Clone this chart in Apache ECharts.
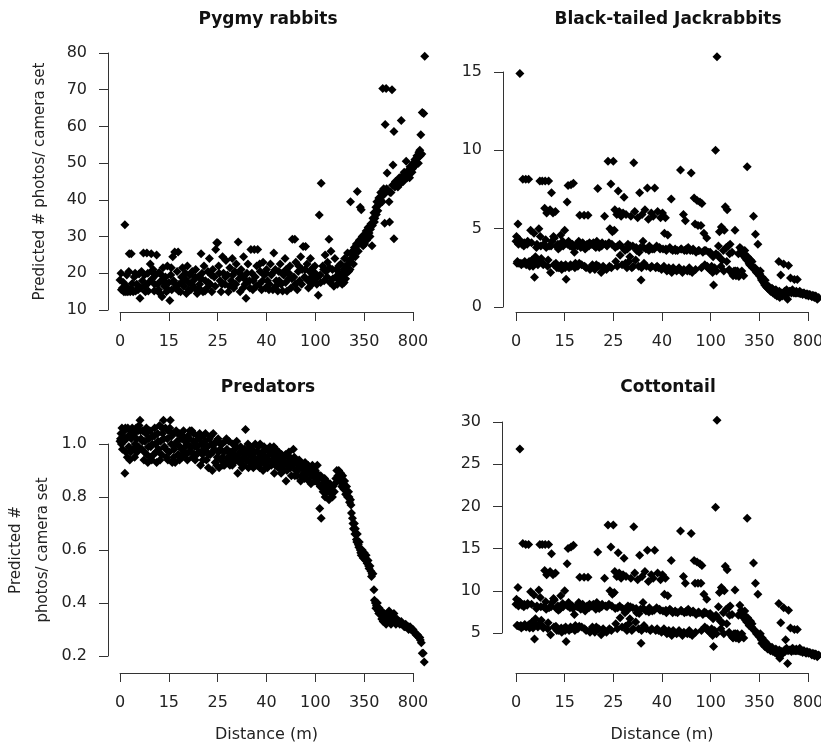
<!DOCTYPE html>
<html>
<head>
<meta charset="utf-8">
<script src="https://cdn.jsdelivr.net/npm/echarts@6/dist/echarts.min.js"></script>
<style>
html,body{margin:0;padding:0;background:#fff;}
#chart{width:821px;height:747px;}
</style>
</head>
<body>
<div id="chart"></div>
<script>
// x positions are in tick units: 0..6 correspond to the labelled ticks
const xTickLabels = ['0', '15', '25', '40', '100', '350', '800'];
const panelTitles = ['Pygmy rabbits', 'Black-tailed Jackrabbits', 'Predators', 'Cottontail'];
const yAxisTitles = ['Predicted # photos/ camera set', '', 'Predicted #\nphotos/ camera set', ''];
const xAxisTitles = ['', '', 'Distance (m)', 'Distance (m)'];
const pygmyTicks = [10, 20, 30, 40, 50, 60, 70, 80];
const jackTicks = [0, 5, 10, 15];
const predatorTicks = [0.2, 0.4, 0.6, 0.8, 1.0];
const cottontailTicks = [5, 10, 15, 20, 25, 30];

const pygmyPoints = [
[0.00,18.2],[0.02,20.0],[0.05,16.0],[0.08,15.0],[0.10,33.2],[0.12,15.0],[0.14,19.5],[0.16,15.0],[0.19,25.3],[0.21,15.0],
[0.23,25.3],[0.25,17.2],[0.27,15.0],[0.29,19.0],[0.32,15.2],[0.34,17.0],[0.37,15.5],[0.39,19.8],[0.41,13.2],[0.43,16.0],
[0.46,18.0],[0.48,25.5],[0.50,19.5],[0.52,15.0],[0.55,25.5],[0.57,20.0],[0.59,17.5],[0.62,22.5],[0.64,25.3],[0.66,18.5],
[0.68,21.0],[0.70,15.2],[0.73,19.5],[0.75,25.0],[0.77,17.0],[0.80,20.2],[0.82,14.5],[0.84,18.0],[0.86,13.6],[0.88,21.5],
[0.91,16.5],[0.93,19.0],[0.95,15.0],[0.97,22.0],[1.00,17.5],[1.02,12.6],[1.04,19.5],[1.06,15.5],[1.08,24.5],[1.10,18.0],
[1.12,25.8],[1.14,16.0],[1.17,20.5],[1.19,25.8],[1.21,17.0],[1.24,15.0],[1.26,19.0],[1.28,21.5],[1.31,16.5],[1.33,18.5],
[1.36,14.5],[1.38,22.0],[1.40,17.5],[1.43,19.5],[1.45,15.5],[1.48,20.5],[1.50,18.0],[1.53,16.0],[1.55,21.0],[1.58,14.5],
[1.60,19.0],[1.63,17.0],[1.66,25.3],[1.68,20.0],[1.70,15.0],[1.72,22.0],[1.75,18.0],[1.78,16.0],[1.80,20.5],[1.83,24.0],
[1.85,17.0],[1.88,15.0],[1.90,21.0],[1.93,19.0],[1.96,26.5],[1.98,28.3],[2.00,28.3],[2.02,22.0],[2.05,18.0],[2.07,15.0],
[2.10,24.5],[2.12,20.0],[2.15,17.0],[2.17,23.5],[2.20,19.5],[2.22,15.0],[2.25,21.5],[2.28,18.0],[2.30,24.0],[2.33,16.0],
[2.35,20.5],[2.38,22.5],[2.42,28.5],[2.44,18.5],[2.46,15.0],[2.48,21.0],[2.51,19.0],[2.53,24.5],[2.56,17.0],[2.58,13.2],
[2.60,20.0],[2.62,22.5],[2.65,18.0],[2.68,26.5],[2.70,20.0],[2.72,15.5],[2.75,26.5],[2.77,19.0],[2.80,22.0],[2.82,26.5],
[2.85,17.0],[2.87,20.5],[2.90,15.5],[2.93,23.0],[2.95,19.5],[2.98,16.0],[3.00,21.0],[3.02,18.0],[3.05,15.5],[3.08,22.5],
[3.10,19.5],[3.13,15.5],[3.15,25.5],[3.18,21.0],[3.20,18.0],[3.23,15.2],[3.25,20.5],[3.28,22.5],[3.30,17.0],[3.33,15.2],
[3.35,19.5],[3.38,24.0],[3.40,21.0],[3.42,15.2],[3.45,18.5],[3.48,22.0],[3.50,16.0],[3.53,29.3],[3.56,19.0],[3.58,29.3],
[3.60,23.0],[3.63,15.5],[3.65,20.5],[3.68,18.0],[3.70,24.5],[3.73,21.0],[3.75,27.3],[3.78,19.0],[3.80,27.3],[3.83,22.5],
[3.85,18.0],[3.88,20.5],[3.90,24.0],[3.92,19.0],[3.95,21.5],[3.98,18.5],[4.00,20.0],[4.03,17.0],[4.06,14.0],[4.08,35.9],
[4.10,19.5],[4.12,44.5],[4.15,22.0],[4.18,18.0],[4.20,25.0],[4.22,20.5],[4.25,23.0],[4.28,29.3],[4.30,17.5],[4.32,26.0],
[4.35,21.0],[4.38,16.5],[4.40,24.0],[4.42,19.0],[4.45,17.0],[4.48,22.0],[4.50,18.0],[4.52,22.5],[4.55,17.0],[4.58,21.0],
[4.60,24.0],[4.62,18.5],[4.64,22.0],[4.66,25.5],[4.68,20.5],[4.70,23.5],[4.72,39.5],[4.74,24.0],[4.76,26.0],[4.78,22.5],
[4.80,27.0],[4.82,24.5],[4.84,28.0],[4.86,42.3],[4.88,26.0],[4.90,29.0],[4.92,38.0],[4.94,37.3],[4.96,30.0],[4.98,27.5],
[5.00,30.5],[5.02,29.0],[5.04,31.5],[5.06,30.0],[5.08,32.5],[5.10,31.0],[5.12,30.0],[5.14,33.5],[5.16,27.5],[5.18,35.0],
[5.20,36.5],[5.22,35.0],[5.24,38.0],[5.26,39.5],[5.28,37.0],[5.30,40.5],[5.32,39.0],[5.34,42.0],[5.36,41.0],[5.38,70.3],
[5.40,43.0],[5.42,33.6],[5.43,60.5],[5.45,70.3],[5.47,47.3],[5.49,42.5],[5.51,39.5],[5.52,34.0],[5.55,42.0],[5.57,70.0],
[5.59,49.5],[5.61,58.6],[5.61,29.4],[5.63,43.5],[5.65,44.5],[5.68,45.0],[5.70,44.0],[5.72,46.0],[5.74,45.5],[5.76,61.6],
[5.78,46.5],[5.80,45.0],[5.82,47.5],[5.84,46.5],[5.86,50.5],[5.88,46.0],[5.90,48.0],[5.92,47.0],[5.94,49.0],[5.96,48.5],
[5.98,47.5],[6.00,50.0],[6.02,49.0],[6.04,51.0],[6.06,50.5],[6.08,52.0],[6.10,51.5],[6.12,53.0],[6.14,53.5],[6.16,57.7],
[6.18,52.5],[6.19,63.8],[6.22,63.5],[6.24,79.1],
[0.03,15.5],[0.07,17.5],[0.13,16.5],[0.18,20.5],[0.24,15.8],[0.31,20.0],[0.36,16.8],[0.44,20.5],[0.51,16.5],[0.58,15.2],
[0.65,20.5],[0.71,17.0],[0.79,15.5],[0.85,19.5],[0.92,17.5],[0.99,15.5],[1.05,21.5],[1.13,17.0],[1.20,15.2],[1.27,17.5],
[1.34,20.0],[1.41,15.5],[1.47,17.0],[1.54,19.0],[1.61,16.0],[1.67,18.5],[1.74,15.2],[1.81,17.5],[1.87,19.5],[1.95,16.5],
[2.03,20.0],[2.09,17.0],[2.16,19.0],[2.24,16.5],[2.31,19.5],[2.37,17.0],[2.45,20.0],[2.52,16.0],[2.59,18.0],[2.66,16.0],
[2.73,18.0],[2.79,16.5],[2.86,22.5],[2.92,18.0],[2.99,20.0],[3.06,17.0],[3.12,20.0],[3.19,16.5],[3.26,18.0],[3.32,20.0],
[3.39,17.5],[3.46,20.0],[3.52,18.5],[3.59,17.0],[3.66,22.0],[3.72,17.0],[3.79,21.0],[3.86,16.0],[3.93,17.0],[3.99,22.0],
[4.05,19.0],[4.11,17.5],[4.17,21.0],[4.24,19.0],[4.29,21.5],[4.36,18.5],[4.43,21.0],[4.49,20.0],[4.54,19.5],[4.59,17.5],
[4.63,20.0],[4.67,22.5],[4.71,21.0],[4.77,25.0],[4.83,26.0],[4.89,28.0],[4.95,28.0],[5.01,28.0],[5.05,29.0],[5.09,30.0],
[5.13,32.0],[5.17,33.0],[5.21,34.0],[5.25,36.0],[5.29,38.5],[5.33,40.0],[5.37,39.5],[5.41,41.5],[5.46,43.0],[5.53,42.0],
[5.58,44.0],[5.64,45.0],[5.69,43.5],[5.75,44.5],[5.81,46.0],[5.87,47.5],[5.93,46.0],[5.99,48.5],[6.05,49.5],[6.11,50.0],
[6.15,52.0]
];

const jackPoints = [
[0.00,4.2],[0.01,4.5],[0.02,2.8],[0.04,5.3],[0.05,4.0],[0.06,2.8],[0.08,14.9],[0.09,4.2],[0.10,2.8],[0.12,4.0],
[0.14,8.15],[0.15,2.8],[0.17,4.1],[0.18,2.9],[0.20,8.15],[0.21,2.7],[0.23,4.0],[0.25,2.8],[0.26,8.15],[0.28,2.6],
[0.30,4.9],[0.31,2.9],[0.33,3.0],[0.35,2.6],[0.37,4.7],[0.38,1.9],[0.40,3.2],[0.41,2.9],[0.43,4.0],[0.45,2.7],
[0.47,5.0],[0.49,8.05],[0.50,4.5],[0.52,3.1],[0.54,8.05],[0.55,2.8],[0.57,4.0],[0.59,6.3],[0.60,8.05],[0.62,3.8],
[0.63,6.0],[0.65,2.6],[0.67,8.05],[0.68,3.9],[0.70,6.2],[0.71,2.2],[0.73,7.3],[0.74,4.2],[0.76,6.0],[0.78,2.7],
[0.79,4.4],[0.81,6.1],[0.83,3.9],[0.84,2.5],[0.86,4.0],[0.88,2.5],[0.90,3.8],[0.92,4.6],[0.94,2.4],[0.96,4.2],
[0.98,2.6],[1.00,4.9],[1.02,2.7],[1.03,1.77],[1.05,6.7],[1.06,4.0],[1.07,7.75],[1.09,2.5],[1.11,3.9],[1.13,7.8],
[1.14,2.6],[1.16,4.0],[1.18,7.9],[1.20,3.5],[1.22,2.8],[1.24,4.0],[1.27,2.6],[1.29,4.2],[1.31,5.85],[1.33,3.8],
[1.35,2.7],[1.37,4.1],[1.40,5.85],[1.42,3.7],[1.44,2.5],[1.46,4.0],[1.48,5.85],[1.50,3.9],[1.52,2.4],[1.55,4.0],
[1.57,2.7],[1.59,4.1],[1.62,2.4],[1.64,3.8],[1.66,4.2],[1.68,7.57],[1.70,2.6],[1.72,4.0],[1.75,2.2],[1.77,4.1],
[1.79,2.6],[1.82,5.8],[1.84,4.0],[1.86,2.4],[1.89,9.3],[1.91,4.1],[1.93,5.0],[1.95,7.85],[1.96,2.5],[1.98,4.8],
[2.00,9.3],[2.02,4.9],[2.03,6.2],[2.05,2.9],[2.07,5.9],[2.09,3.9],[2.10,7.4],[2.12,6.1],[2.14,3.3],[2.16,5.8],
[2.18,2.7],[2.20,6.0],[2.22,7.0],[2.24,3.6],[2.26,5.9],[2.28,2.5],[2.30,4.0],[2.32,2.9],[2.34,3.2],[2.36,5.8],
[2.38,2.5],[2.40,3.9],[2.42,9.2],[2.44,6.1],[2.46,3.0],[2.48,3.6],[2.50,5.7],[2.52,2.6],[2.54,7.3],[2.56,3.8],
[2.57,1.72],[2.59,5.9],[2.61,4.2],[2.63,2.8],[2.65,6.2],[2.67,3.7],[2.70,7.6],[2.72,5.6],[2.74,3.9],[2.76,2.5],
[2.78,6.0],[2.80,3.7],[2.82,5.8],[2.85,7.6],[2.87,2.5],[2.89,3.9],[2.91,6.1],[2.93,2.5],[2.95,3.8],[2.97,5.7],
[2.99,2.4],[3.01,6.0],[3.02,3.7],[3.04,2.6],[3.05,4.7],[3.07,5.7],[3.09,3.6],[3.10,2.3],[3.12,4.6],[3.14,2.5],
[3.16,3.8],[3.19,6.9],[3.20,2.2],[3.22,3.6],[3.25,2.4],[3.27,3.7],[3.30,2.3],[3.32,3.6],[3.35,2.5],[3.38,8.75],
[3.40,3.7],[3.42,2.2],[3.44,5.9],[3.46,3.6],[3.48,5.5],[3.50,3.7],[3.52,2.3],[3.54,3.8],[3.56,2.5],[3.58,3.6],
[3.60,8.55],[3.62,2.2],[3.64,3.7],[3.66,6.95],[3.68,5.3],[3.70,3.5],[3.72,6.8],[3.74,5.2],[3.76,3.6],[3.78,6.7],
[3.80,5.2],[3.82,6.6],[3.84,3.5],[3.86,4.7],[3.88,2.7],[3.90,3.6],[3.92,4.4],[3.94,2.5],[3.96,3.5],[3.98,2.4],
[4.00,3.4],[4.02,2.6],[4.04,2.2],[4.06,1.4],[4.08,2.5],[4.10,10.0],[4.12,2.3],[4.13,15.98],[4.15,3.3],[4.18,4.8],
[4.20,3.1],[4.22,5.1],[4.24,3.0],[4.26,3.6],[4.28,4.9],[4.30,6.4],[4.32,3.8],[4.34,6.2],[4.36,3.9],[4.38,2.4],
[4.40,4.0],[4.42,2.2],[4.44,3.5],[4.46,2.0],[4.48,2.3],[4.50,4.9],[4.52,2.0],[4.55,2.3],[4.58,1.95],[4.60,3.8],
[4.62,3.5],[4.64,2.3],[4.66,3.3],[4.68,2.0],[4.70,3.6],[4.72,3.1],[4.75,8.96],[4.76,3.2],[4.78,2.9],[4.80,2.7],
[4.82,3.0],[4.84,2.6],[4.86,2.5],[4.88,5.8],[4.90,2.4],[4.92,4.64],[4.94,2.2],[4.97,4.0],[4.98,2.1],[5.00,2.0],
[5.02,2.3],[5.04,1.8],[5.06,1.9],[5.08,1.6],[5.10,1.5],[5.12,1.7],[5.14,1.3],[5.16,1.4],[5.18,1.2],[5.20,1.3],
[5.22,1.1],[5.24,1.0],[5.26,1.2],[5.28,0.9],[5.30,1.0],[5.32,0.8],[5.34,1.1],[5.36,0.7],[5.38,0.9],[5.40,2.9],
[5.42,0.6],[5.44,2.04],[5.46,0.9],[5.48,0.8],[5.50,2.75],[5.52,1.0],[5.54,0.7],[5.56,1.1],[5.58,0.5],[5.60,2.65],
[5.62,1.0],[5.64,1.85],[5.66,0.9],[5.68,1.1],[5.70,1.0],[5.72,1.75],[5.74,0.9],[5.76,1.0],[5.78,1.75],[5.80,0.9],
[5.83,1.0],[5.86,0.9],[5.89,0.8],[5.92,0.9],[5.95,0.8],[5.98,0.85],[6.01,0.7],[6.04,0.8],[6.07,0.7],[6.10,0.75],
[6.13,0.6],[6.16,0.7],[6.19,0.5],[6.22,0.6],
[0.03,2.9],[0.07,4.3],[0.11,2.7],[0.16,3.9],[0.19,2.8],[0.24,4.2],[0.27,2.9],[0.32,4.1],[0.36,2.8],[0.42,3.8],
[0.46,2.9],[0.51,3.9],[0.56,2.7],[0.61,4.3],[0.66,3.0],[0.72,3.9],[0.77,4.5],[0.82,2.8],[0.87,3.7],[0.93,2.7],
[0.97,3.9],[1.01,2.5],[1.08,4.2],[1.12,2.7],[1.17,3.8],[1.21,2.5],[1.26,3.9],[1.30,2.8],[1.36,3.9],[1.41,2.6],
[1.45,3.8],[1.51,4.1],[1.56,2.6],[1.61,3.9],[1.65,2.7],[1.71,3.8],[1.76,3.9],[1.81,2.5],[1.87,3.9],[1.92,2.6],
[1.97,4.0],[2.04,3.8],[2.08,2.6],[2.13,4.0],[2.19,3.8],[2.25,2.8],[2.29,3.7],[2.35,3.9],[2.41,2.6],[2.47,3.8],
[2.53,3.5],[2.58,2.5],[2.62,3.8],[2.68,2.6],[2.73,3.6],[2.79,2.6],[2.84,3.7],[2.90,2.6],[2.96,3.7],[3.03,2.5],
[3.08,3.7],[3.13,2.4],[3.18,3.7],[3.23,2.5],[3.28,3.6],[3.33,2.4],[3.39,3.7],[3.45,2.4],[3.51,3.6],[3.57,2.3],
[3.63,3.6],[3.69,2.4],[3.75,3.6],[3.81,2.5],[3.87,3.6],[3.93,2.6],[3.99,3.5],[4.05,3.2],[4.11,3.4],[4.16,3.9],
[4.21,2.6],[4.27,2.3],[4.33,2.9],[4.39,3.4],[4.45,2.1],[4.51,2.3],[4.57,3.4],[4.63,3.7],[4.69,3.4],[4.74,3.0],
[4.79,2.8],[4.85,2.9],[4.91,2.5],[4.96,2.3],[5.01,2.1],[5.05,1.7],[5.11,1.4],[5.17,1.2],[5.23,1.0],[5.29,1.1],
[5.35,0.8],[5.41,1.0],[5.47,0.7],[5.53,0.9],[5.59,0.9],[5.65,1.0],[5.71,0.9],[5.77,0.9],[5.84,0.85],[5.90,0.9],
[5.96,0.75],[6.02,0.8],[6.08,0.65],[6.14,0.7],[6.20,0.55]
];

const predatorPoints = [
[0.00,1.01],[0.01,1.02],[0.03,1.00],[0.04,1.06],[0.06,1.03],[0.08,1.01],[0.10,0.89],[0.11,1.06],[0.13,1.02],[0.15,0.95],
[0.16,1.06],[0.18,0.99],[0.20,0.94],[0.21,1.05],[0.23,1.02],[0.25,1.06],[0.27,0.98],[0.29,1.04],[0.31,1.00],[0.33,1.06],
[0.35,0.97],[0.37,1.05],[0.39,1.07],[0.41,1.09],[0.43,1.02],[0.45,0.98],[0.47,1.05],[0.49,0.94],[0.51,1.01],[0.53,1.04],
[0.55,0.96],[0.57,0.93],[0.59,1.02],[0.61,1.05],[0.63,0.99],[0.65,0.94],[0.67,1.03],[0.69,0.96],[0.71,1.06],[0.73,1.00],
[0.75,0.93],[0.77,1.04],[0.79,0.98],[0.81,1.07],[0.83,1.01],[0.85,0.96],[0.87,1.04],[0.89,1.09],[0.91,0.99],[0.93,1.06],
[0.95,0.95],[0.97,1.02],[0.99,1.05],[1.01,0.97],[1.03,1.09],[1.05,1.00],[1.07,0.93],[1.09,1.04],[1.11,0.98],[1.13,0.93],
[1.15,1.05],[1.17,1.01],[1.19,0.96],[1.21,1.04],[1.23,0.99],[1.25,1.02],[1.27,0.95],[1.29,1.03],[1.31,0.97],[1.33,1.01],
[1.35,0.96],[1.37,1.00],[1.39,1.03],[1.41,0.97],[1.43,1.05],[1.45,0.99],[1.47,1.05],[1.49,0.95],[1.51,1.04],[1.53,0.99],
[1.55,1.01],[1.57,0.96],[1.59,1.03],[1.61,0.97],[1.63,1.04],[1.65,0.92],[1.67,1.00],[1.69,0.96],[1.71,1.03],[1.73,0.98],
[1.75,1.04],[1.77,0.94],[1.79,0.99],[1.81,0.91],[1.83,1.02],[1.85,0.96],[1.87,1.00],[1.89,0.90],[1.91,1.04],[1.93,0.98],
[1.95,0.93],[1.97,1.01],[1.99,0.95],[2.01,1.02],[2.03,0.91],[2.05,0.98],[2.07,0.94],[2.09,1.00],[2.11,0.92],[2.13,0.97],
[2.15,1.01],[2.17,0.93],[2.19,0.98],[2.21,0.95],[2.23,1.01],[2.25,0.92],[2.27,0.97],[2.29,0.94],[2.31,1.00],[2.33,0.93],
[2.35,0.98],[2.37,0.95],[2.39,1.01],[2.41,0.89],[2.43,0.96],[2.45,0.93],[2.47,0.99],[2.49,0.94],[2.51,0.97],[2.53,0.92],
[2.55,0.98],[2.57,1.055],[2.59,0.94],[2.61,0.97],[2.63,0.91],[2.65,0.96],[2.67,0.99],[2.69,0.93],[2.71,0.95],[2.73,0.91],
[2.75,0.97],[2.77,1.00],[2.79,0.94],[2.81,0.92],[2.83,0.99],[2.85,0.95],[2.87,1.00],[2.89,0.93],[2.91,0.97],[2.93,0.90],
[2.95,0.99],[2.97,0.95],[2.99,0.92],[3.01,0.98],[3.04,0.94],[3.07,0.99],[3.10,0.92],[3.13,0.96],[3.16,0.89],[3.19,0.98],
[3.22,0.93],[3.25,0.97],[3.28,0.92],[3.31,0.96],[3.34,0.90],[3.37,0.95],[3.40,0.86],[3.43,0.93],[3.46,0.97],[3.49,0.91],
[3.52,0.94],[3.55,0.98],[3.58,0.88],[3.61,0.93],[3.64,0.90],[3.67,0.94],[3.70,0.86],[3.73,0.91],[3.76,0.89],[3.79,0.93],
[3.82,0.87],[3.85,0.92],[3.88,0.90],[3.91,0.85],[3.94,0.92],[3.97,0.88],[4.00,0.90],[4.02,0.86],[4.04,0.92],[4.06,0.88],
[4.09,0.757],[4.10,0.84],[4.12,0.72],[4.14,0.87],[4.16,0.82],[4.18,0.85],[4.20,0.80],[4.22,0.86],[4.25,0.83],[4.28,0.79],
[4.30,0.85],[4.33,0.81],[4.36,0.84],[4.39,0.82],[4.42,0.87],[4.44,0.90],[4.46,0.88],[4.48,0.90],[4.50,0.86],[4.52,0.89],
[4.54,0.84],[4.56,0.88],[4.58,0.83],[4.60,0.86],[4.62,0.81],[4.64,0.84],[4.66,0.80],[4.68,0.82],[4.70,0.78],[4.72,0.79],
[4.74,0.74],[4.76,0.72],[4.78,0.68],[4.80,0.70],[4.82,0.68],[4.84,0.64],[4.86,0.66],[4.88,0.62],[4.90,0.63],[4.92,0.60],
[4.94,0.58],[4.96,0.60],[4.98,0.57],[5.00,0.59],[5.02,0.57],[5.04,0.58],[5.06,0.55],[5.08,0.56],[5.10,0.53],[5.12,0.54],
[5.14,0.52],[5.16,0.51],[5.18,0.51],[5.20,0.45],[5.21,0.41],[5.23,0.40],[5.25,0.39],[5.27,0.40],[5.29,0.37],[5.31,0.38],
[5.33,0.36],[5.35,0.37],[5.37,0.35],[5.39,0.33],[5.41,0.36],[5.43,0.34],[5.45,0.32],[5.47,0.35],[5.49,0.33],[5.51,0.37],
[5.53,0.34],[5.55,0.32],[5.57,0.35],[5.59,0.33],[5.61,0.36],[5.63,0.34],[5.65,0.32],[5.67,0.34],[5.70,0.33],[5.73,0.32],
[5.76,0.33],[5.79,0.32],[5.82,0.31],[5.85,0.32],[5.88,0.31],[5.91,0.30],[5.94,0.31],[5.97,0.30],[6.00,0.30],[6.03,0.29],
[6.06,0.28],[6.09,0.28],[6.12,0.27],[6.15,0.26],[6.17,0.25],[6.19,0.21],[6.21,0.21],[6.23,0.177],
[0.02,1.04],[0.05,0.98],[0.09,1.05],[0.12,0.97],[0.17,1.03],[0.22,0.97],[0.26,1.03],[0.30,0.95],[0.34,1.02],[0.38,0.99],
[0.42,1.05],[0.46,1.01],[0.50,0.97],[0.54,1.06],[0.58,0.99],[0.62,0.95],[0.66,1.00],[0.70,1.03],[0.74,0.97],[0.78,1.01],
[0.82,0.94],[0.86,1.06],[0.90,1.02],[0.94,0.98],[0.98,0.94],[1.02,1.06],[1.06,1.03],[1.10,0.95],[1.14,1.00],[1.18,1.04],
[1.22,0.94],[1.26,0.98],[1.30,1.05],[1.34,0.99],[1.38,0.94],[1.42,1.02],[1.46,0.97],[1.50,1.01],[1.54,0.94],[1.58,0.99],
[1.62,1.02],[1.66,0.97],[1.70,0.94],[1.74,1.01],[1.78,0.97],[1.82,0.96],[1.86,1.03],[1.90,0.97],[1.94,1.00],[1.98,0.92],
[2.02,0.97],[2.06,1.00],[2.10,0.95],[2.14,0.92],[2.18,1.02],[2.22,0.97],[2.26,0.95],[2.30,0.92],[2.34,0.96],[2.38,0.99],
[2.42,0.94],[2.46,0.97],[2.50,0.91],[2.54,0.95],[2.58,0.97],[2.62,1.00],[2.66,0.93],[2.70,0.98],[2.74,0.95],[2.78,0.92],
[2.82,0.97],[2.86,0.91],[2.90,0.95],[2.94,0.97],[2.98,0.94],[3.02,0.91],[3.06,0.96],[3.09,0.97],[3.12,0.94],[3.15,0.99],
[3.18,0.92],[3.21,0.95],[3.24,0.91],[3.27,0.95],[3.30,0.89],[3.33,0.94],[3.36,0.92],[3.39,0.96],[3.42,0.90],[3.45,0.92],
[3.48,0.95],[3.51,0.88],[3.54,0.92],[3.57,0.95],[3.60,0.90],[3.63,0.88],[3.66,0.91],[3.69,0.93],[3.72,0.88],[3.75,0.91],
[3.78,0.87],[3.81,0.91],[3.84,0.89],[3.87,0.86],[3.90,0.90],[3.93,0.88],[3.96,0.91],[3.99,0.86],[4.03,0.89],[4.07,0.85],
[4.11,0.88],[4.15,0.84],[4.19,0.87],[4.23,0.82],[4.27,0.85],[4.31,0.82],[4.35,0.80],[4.40,0.85],[4.45,0.87],[4.49,0.88],
[4.53,0.86],[4.57,0.85],[4.61,0.84],[4.65,0.82],[4.69,0.80],[4.73,0.77],[4.77,0.70],[4.81,0.66],[4.85,0.63],[4.89,0.61],
[4.93,0.59],[4.97,0.58],[5.03,0.56],[5.09,0.54],[5.15,0.50],[5.24,0.38],[5.30,0.36],[5.36,0.34],[5.42,0.35],[5.48,0.34],
[5.54,0.33],[5.60,0.34],[5.66,0.33],[5.72,0.33],[5.78,0.32],[5.84,0.31],[5.90,0.31],[5.96,0.30],[6.02,0.29],[6.08,0.28],
[6.14,0.27]
];

const cottontailPoints = [
[0.00,8.4],[0.01,9.0],[0.02,5.9],[0.04,10.4],[0.05,8.2],[0.06,5.8],[0.08,26.8],[0.09,8.6],[0.10,5.9],[0.12,8.3],
[0.14,15.6],[0.15,5.8],[0.17,8.4],[0.18,6.0],[0.20,15.5],[0.21,5.7],[0.23,8.3],[0.25,5.9],[0.26,15.5],[0.28,5.6],
[0.30,9.9],[0.31,6.1],[0.33,6.3],[0.35,5.6],[0.37,9.5],[0.38,4.3],[0.40,6.7],[0.41,6.0],[0.43,8.2],[0.45,5.7],
[0.47,10.1],[0.49,15.5],[0.50,9.2],[0.52,6.5],[0.54,15.5],[0.55,5.8],[0.57,8.1],[0.59,12.4],[0.60,15.5],[0.62,7.8],
[0.63,11.9],[0.65,5.5],[0.67,15.5],[0.68,8.0],[0.70,12.3],[0.71,4.8],[0.73,14.4],[0.74,8.6],[0.76,11.9],[0.78,5.7],
[0.79,8.9],[0.81,12.1],[0.83,7.9],[0.84,5.3],[0.86,8.2],[0.88,5.3],[0.90,7.8],[0.92,9.4],[0.94,5.1],[0.96,8.5],
[0.98,5.5],[1.00,10.0],[1.02,5.7],[1.03,4.0],[1.05,13.2],[1.06,8.2],[1.07,15.0],[1.09,5.3],[1.11,8.0],[1.13,15.2],
[1.14,5.5],[1.16,8.2],[1.18,15.4],[1.20,7.2],[1.22,5.9],[1.24,8.2],[1.27,5.5],[1.29,8.6],[1.31,11.6],[1.33,7.8],
[1.35,5.7],[1.37,8.4],[1.40,11.6],[1.42,7.6],[1.44,5.3],[1.46,8.2],[1.48,11.6],[1.50,8.0],[1.52,5.1],[1.55,8.2],
[1.57,5.7],[1.59,8.4],[1.62,5.1],[1.64,7.8],[1.66,8.6],[1.68,14.6],[1.70,5.5],[1.72,8.2],[1.75,4.8],[1.77,8.4],
[1.79,5.5],[1.82,11.5],[1.84,8.2],[1.86,5.1],[1.89,17.8],[1.91,8.4],[1.93,10.0],[1.95,15.2],[1.96,5.3],[1.98,9.6],
[2.00,17.8],[2.02,9.8],[2.03,12.3],[2.05,6.1],[2.07,11.7],[2.09,8.0],[2.10,14.5],[2.12,12.1],[2.14,6.8],[2.16,11.5],
[2.18,5.7],[2.20,11.9],[2.22,13.85],[2.24,7.4],[2.26,11.7],[2.28,5.3],[2.30,8.2],[2.32,6.1],[2.34,6.7],[2.36,11.5],
[2.38,5.3],[2.40,8.0],[2.42,17.6],[2.44,12.1],[2.46,6.3],[2.48,7.4],[2.50,11.3],[2.52,5.5],[2.54,14.2],[2.56,7.8],
[2.57,3.8],[2.59,11.7],[2.61,8.6],[2.63,5.9],[2.65,12.3],[2.67,7.6],[2.70,14.8],[2.72,11.1],[2.74,8.0],[2.76,5.3],
[2.78,11.9],[2.80,7.6],[2.82,11.5],[2.85,14.8],[2.87,5.3],[2.89,8.0],[2.91,12.1],[2.93,5.3],[2.95,7.8],[2.97,11.3],
[2.99,5.1],[3.01,11.9],[3.02,7.6],[3.04,5.5],[3.05,9.6],[3.07,11.5],[3.09,7.4],[3.10,4.9],[3.12,9.4],[3.14,5.3],
[3.16,7.8],[3.19,13.6],[3.20,4.7],[3.22,7.4],[3.25,5.1],[3.27,7.6],[3.30,4.9],[3.32,7.4],[3.35,5.3],[3.38,17.1],
[3.40,7.6],[3.42,4.7],[3.44,11.7],[3.46,7.4],[3.48,10.9],[3.50,7.6],[3.52,4.9],[3.54,7.8],[3.56,5.3],[3.58,7.4],
[3.60,16.8],[3.62,4.7],[3.64,7.6],[3.66,13.6],[3.68,10.9],[3.70,7.2],[3.72,13.4],[3.74,10.9],[3.76,7.4],[3.78,13.2],
[3.80,10.9],[3.82,13.0],[3.84,7.2],[3.86,9.6],[3.88,5.7],[3.90,7.4],[3.92,9.0],[3.94,5.3],[3.96,7.2],[3.98,5.1],
[4.00,7.0],[4.02,5.5],[4.04,4.7],[4.06,3.4],[4.08,5.3],[4.10,19.9],[4.12,4.9],[4.13,30.2],[4.15,6.8],[4.18,9.8],
[4.20,6.4],[4.22,10.4],[4.24,6.2],[4.26,7.4],[4.28,10.0],[4.30,12.9],[4.32,7.8],[4.34,12.5],[4.36,8.0],[4.38,5.1],
[4.40,8.2],[4.42,4.7],[4.44,7.2],[4.46,4.4],[4.48,4.9],[4.50,10.1],[4.52,4.4],[4.55,4.9],[4.58,4.3],[4.60,8.3],
[4.62,7.4],[4.64,4.9],[4.66,6.9],[4.68,4.4],[4.70,7.6],[4.72,6.5],[4.75,18.6],[4.76,6.8],[4.78,6.2],[4.80,5.9],
[4.82,6.4],[4.84,5.7],[4.86,5.5],[4.88,13.3],[4.90,5.3],[4.92,10.9],[4.94,4.9],[4.97,9.6],[4.98,4.7],[5.00,4.6],
[5.02,4.9],[5.04,4.2],[5.06,4.4],[5.08,3.9],[5.10,3.7],[5.12,4.0],[5.14,3.4],[5.16,3.6],[5.18,3.3],[5.20,3.5],
[5.22,3.1],[5.24,3.0],[5.26,3.3],[5.28,2.8],[5.30,3.0],[5.32,2.7],[5.34,3.1],[5.36,2.5],[5.38,2.8],[5.40,8.5],
[5.42,2.0],[5.44,6.2],[5.46,2.8],[5.48,2.6],[5.50,8.0],[5.52,3.0],[5.54,4.2],[5.56,3.2],[5.58,1.4],[5.60,7.7],
[5.62,3.0],[5.64,5.6],[5.66,2.8],[5.68,3.2],[5.70,3.1],[5.72,5.4],[5.74,2.9],[5.76,3.1],[5.78,5.4],[5.80,2.9],
[5.83,3.2],[5.86,2.9],[5.89,2.7],[5.92,2.9],[5.95,2.7],[5.98,2.8],[6.01,2.6],[6.04,2.7],[6.07,2.5],[6.10,2.6],
[6.13,2.3],[6.16,2.5],[6.19,2.2],[6.22,2.4],
[0.03,5.9],[0.07,8.7],[0.11,5.6],[0.16,8.1],[0.19,5.8],[0.24,8.5],[0.27,6.0],[0.32,8.4],[0.36,5.8],[0.42,7.9],
[0.46,6.0],[0.51,8.1],[0.56,5.6],[0.61,8.7],[0.66,6.2],[0.72,8.1],[0.77,9.1],[0.82,5.8],[0.87,7.7],[0.93,5.6],
[0.97,8.1],[1.01,5.3],[1.08,8.6],[1.12,5.7],[1.17,7.9],[1.21,5.3],[1.26,8.1],[1.30,5.8],[1.36,8.1],[1.41,5.5],
[1.45,7.9],[1.51,8.4],[1.56,5.5],[1.61,8.1],[1.65,5.7],[1.71,7.9],[1.76,8.1],[1.81,5.3],[1.87,8.1],[1.92,5.5],
[1.97,8.2],[2.04,7.9],[2.08,5.5],[2.13,8.2],[2.19,7.9],[2.25,5.8],[2.29,7.7],[2.35,8.1],[2.41,5.5],[2.47,7.9],
[2.53,7.3],[2.58,5.3],[2.62,7.9],[2.68,5.5],[2.73,7.5],[2.79,5.5],[2.84,7.7],[2.90,5.5],[2.96,7.7],[3.03,5.3],
[3.08,7.7],[3.13,5.1],[3.18,7.7],[3.23,5.3],[3.28,7.5],[3.33,5.1],[3.39,7.7],[3.45,5.1],[3.51,7.5],[3.57,4.9],
[3.63,7.5],[3.69,5.1],[3.75,7.5],[3.81,5.3],[3.87,7.5],[3.93,5.5],[3.99,7.3],[4.05,6.7],[4.11,7.1],[4.16,8.1],
[4.21,5.5],[4.27,4.9],[4.33,6.1],[4.39,7.1],[4.45,4.5],[4.51,4.9],[4.57,7.1],[4.63,7.7],[4.69,7.1],[4.74,6.3],
[4.79,5.9],[4.85,6.1],[4.91,5.3],[4.96,4.9],[5.01,4.5],[5.05,3.8],[5.11,3.4],[5.17,3.1],[5.23,2.9],[5.29,3.0],
[5.35,2.7],[5.41,3.0],[5.47,2.5],[5.53,2.8],[5.59,2.9],[5.65,3.0],[5.71,2.9],[5.77,2.9],[5.84,2.8],[5.90,2.9],
[5.96,2.6],[6.02,2.7],[6.08,2.4],[6.14,2.5],[6.20,2.3]
];

const FONT = 'DejaVu Sans';
const TEXT = '#222';
const LINE = '#333';

const panels = [
  {data: pygmyPoints, ticks: pygmyTicks, dec: 0, grid: {left: 120, top: 53, width: 293, height: 257}, xOff: 2, yOff: 12, yGap: 54, tx: 268, ty: 20},
  {data: jackPoints, ticks: jackTicks, dec: 0, grid: {left: 516, top: 72, width: 292, height: 235}, xOff: 5, yOff: 13, yGap: 54, tx: 668, ty: 20},
  {data: predatorPoints, ticks: predatorTicks, dec: 1, grid: {left: 120, top: 444, width: 293, height: 212}, xOff: 17, yOff: 12, yGap: 51, tx: 268, ty: 388},
  {data: cottontailPoints, ticks: cottontailTicks, dec: 0, grid: {left: 516, top: 422, width: 292, height: 211}, xOff: 40, yOff: 14, yGap: 54, tx: 668, ty: 388}
];

const grids = [], xAxes = [], yAxes = [], series = [], graphics = [];
panels.forEach((p, i) => {
  grids.push(Object.assign({containLabel: false, outerBoundsMode: 'none'}, p.grid));
  xAxes.push({
    gridIndex: i, type: 'value', min: 0, max: xTickLabels.length - 1, interval: 1,
    offset: p.xOff,
    name: xAxisTitles[i], nameLocation: 'middle', nameGap: 54,
    nameTextStyle: {fontFamily: FONT, fontSize: 16, color: TEXT},
    axisLine: {show: true, onZero: false, lineStyle: {color: LINE, width: 1}},
    axisTick: {show: true, inside: false, length: 9, lineStyle: {color: LINE, width: 1}},
    splitLine: {show: false},
    axisLabel: {show: true, margin: 22, fontFamily: FONT, fontSize: 16, color: TEXT,
      formatter: v => xTickLabels[Math.round(v)] || ''}
  });
  const t = p.ticks;
  yAxes.push({
    gridIndex: i, type: 'value', min: t[0], max: t[t.length - 1], interval: t[1] - t[0],
    offset: p.yOff,
    name: yAxisTitles[i], nameLocation: 'middle', nameGap: p.yGap, nameRotate: 90,
    nameTextStyle: {fontFamily: FONT, fontSize: 15, color: TEXT, lineHeight: 27, align: 'center'},
    axisLine: {show: true, onZero: false, lineStyle: {color: LINE, width: 1}},
    axisTick: {show: true, inside: false, length: 9, lineStyle: {color: LINE, width: 1}},
    splitLine: {show: false},
    axisLabel: {show: true, margin: 21, fontFamily: FONT, fontSize: 16, color: TEXT,
      formatter: v => Number(v).toFixed(p.dec)}
  });
  series.push({
    type: 'scatter', xAxisIndex: i, yAxisIndex: i, data: p.data,
    symbol: 'diamond', symbolSize: 9, clip: false, silent: true,
    itemStyle: {color: '#000', opacity: 1}
  });
  graphics.push({
    type: 'text', x: p.tx, y: p.ty, silent: true,
    style: {text: panelTitles[i], fill: '#111', font: 'bold 17px "DejaVu Sans"',
      textAlign: 'center', textVerticalAlign: 'middle', align: 'center', verticalAlign: 'middle'}
  });
});

const chart = echarts.init(document.getElementById('chart'), null, {renderer: 'canvas'});
chart.setOption({
  animation: false,
  backgroundColor: '#fff',
  grid: grids,
  xAxis: xAxes,
  yAxis: yAxes,
  series: series,
  graphic: graphics
});
</script>
</body>
</html>
